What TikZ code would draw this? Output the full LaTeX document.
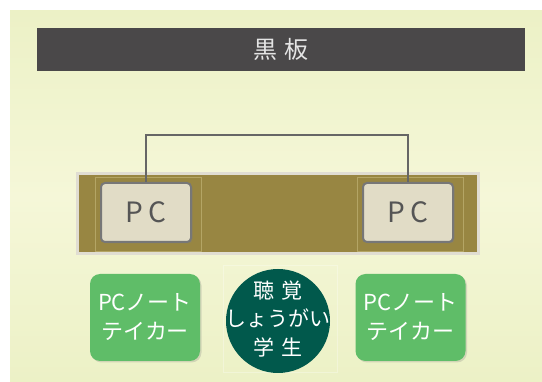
\documentclass[tikz,border=0pt]{standalone}
\usepackage{fontspec}
\setmainfont{Noto Sans CJK JP}
\usetikzlibrary{shadows}
\definecolor{bgA}{HTML}{ECF1C6}
\definecolor{bgB}{HTML}{F5F7D8}
\definecolor{board}{HTML}{4A4849}
\definecolor{boardtext}{HTML}{E4E4E4}
\definecolor{desk}{HTML}{988642}
\definecolor{deskborder}{HTML}{E0DDD2}
\definecolor{deskframe}{HTML}{B4A565}
\definecolor{pcfill}{HTML}{E1DCC6}
\definecolor{pcborder}{HTML}{777777}
\definecolor{pctext}{HTML}{555555}
\definecolor{conn}{HTML}{666666}
\definecolor{takergreen}{HTML}{5FBD68}
\definecolor{studentteal}{HTML}{01594C}
\tikzset{
  pcbox/.style={draw=pcborder, line width=2pt, fill=pcfill, rounded corners=4pt,
    minimum width=90pt, minimum height=59pt, inner sep=0pt, text=pctext,
    font=\fontsize{28}{28}\selectfont,
    drop shadow={shadow xshift=1.5pt, shadow yshift=-1.5pt, opacity=.3}},
  takerbox/.style={fill=takergreen, rounded corners=10pt, minimum width=110pt,
    minimum height=87pt, inner sep=0pt, text=white, align=center,
    font=\fontsize{22}{29}\selectfont,
    drop shadow={shadow xshift=1.5pt, shadow yshift=-1.5pt, opacity=.25}},
  studentcircle/.style={circle, fill=studentteal, minimum size=104pt, inner sep=0pt},
  studenttext/.style={inner sep=0pt, text=white, align=center,
    font=\fontsize{21}{28.5}\selectfont},
  connline/.style={draw=conn, line width=2.5pt},
  faintframe/.style={draw=deskframe, line width=0.6pt}
}
\begin{document}
\begin{tikzpicture}[x=1pt,y=-1pt]
\useasboundingbox (0,0) rectangle (542,382);
\fill[white] (0,0) rectangle (542,382);
\shade[top color=bgA, bottom color=bgA, middle color=bgB] (10,11) rectangle (542,382);
% blackboard
\node[fill=board, minimum width=488pt, minimum height=43pt, inner sep=0pt,
  text=boardtext, font=\fontsize{24}{24}\selectfont] (board) at (281,49.5) {黒\hspace{7pt}板};
% desk
\node[draw=deskborder, line width=3pt, fill=desk, minimum width=401pt,
  minimum height=80pt, inner sep=0pt] (desk) at (278,213.5) {};
\draw[faintframe] (95,177) rectangle (201,251);
\draw[faintframe] (357,177) rectangle (463,251);
% PCs
\node[pcbox] (pcL) at (146,212.5) {P\hspace{5pt}C};
\node[pcbox] (pcR) at (408,212.5) {P\hspace{5pt}C};
\coordinate (topline) at (0,135);
\draw[connline] (pcL.north) |- (topline -| pcR.north) -- (pcR.north);
% bottom row
\draw[white, opacity=.3, line width=0.5pt] (223,265) rectangle (337,372);
\node[takerbox] (takerL) at (145,317.5) {PCノート\\テイカー};
\node[takerbox] (takerR) at (410.5,317.5) {PCノート\\テイカー};
\node[studentcircle] (student) at (278,321) {};
\node[studenttext] (studentlabel) at (278,319) {聴\hspace{7pt}覚\\しょうがい\\学\hspace{7pt}生};
\end{tikzpicture}
\end{document}
